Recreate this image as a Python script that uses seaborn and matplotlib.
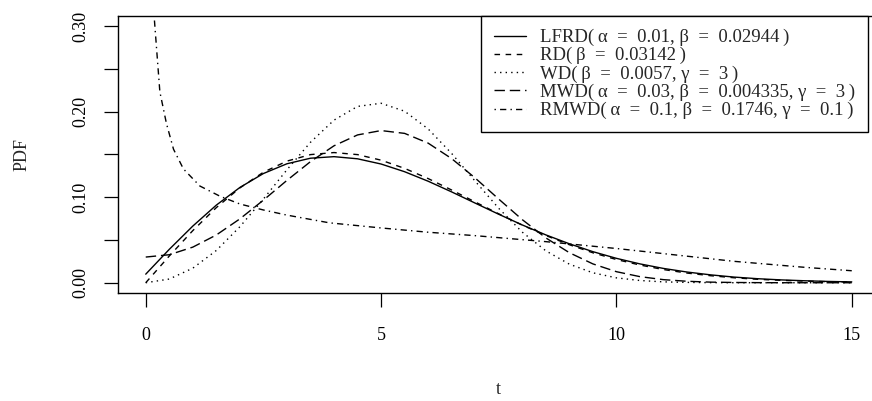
import matplotlib
matplotlib.use("Agg")
import matplotlib.pyplot as plt
import seaborn as sns

# ---------------- data ----------------
t = [0.0, 0.5, 1.0, 1.5, 2.0, 2.5, 3.0, 3.5, 4.0, 4.5, 5.0, 5.5, 6.0, 6.5, 7.0, 7.5,
     8.0, 8.5, 9.0, 9.5, 10.0, 10.5, 11.0, 11.5, 12.0, 12.5, 13.0, 13.5, 14.0, 14.5, 15.0]
lfrd = [0.0100, 0.0390, 0.0662, 0.0907, 0.1113, 0.1276, 0.1390, 0.1455, 0.1473, 0.1448,
        0.1387, 0.1297, 0.1186, 0.1061, 0.0930, 0.0800, 0.0675, 0.0559, 0.0455, 0.0363,
        0.0285, 0.0220, 0.0167, 0.0125, 0.0092, 0.0066, 0.0047, 0.0033, 0.0023, 0.0015, 0.0010]
rd = [0.0000, 0.0312, 0.0609, 0.0878, 0.1108, 0.1291, 0.1421, 0.1497, 0.1521, 0.1497,
      0.1432, 0.1336, 0.1217, 0.1083, 0.0943, 0.0805, 0.0673, 0.0552, 0.0444, 0.0350,
      0.0271, 0.0207, 0.0154, 0.0113, 0.0082, 0.0058, 0.0040, 0.0028, 0.0019, 0.0012, 0.0008]
wd = [0.0000, 0.0043, 0.0170, 0.0377, 0.0654, 0.0978, 0.1320, 0.1641, 0.1900, 0.2060,
      0.2097, 0.2004, 0.1797, 0.1510, 0.1186, 0.0869, 0.0591, 0.0373, 0.0217, 0.0116,
      0.0057, 0.0026, 0.0010, 0.0004, 0.0001, 0.0000, 0.0000, 0.0000, 0.0000, 0.0000, 0.0000]
mwd = [0.0300, 0.0327, 0.0416, 0.0558, 0.0746, 0.0965, 0.1196, 0.1415, 0.1600, 0.1727,
       0.1778, 0.1745, 0.1631, 0.1450, 0.1223, 0.0977, 0.0737, 0.0524, 0.0351, 0.0220,
       0.0129, 0.0071, 0.0036, 0.0017, 0.0007, 0.0003, 0.0001, 0.0000, 0.0000, 0.0000, 0.0000]
t_rmwd = [0.12, 0.18, 0.30, 0.44, 0.59, 0.80, 1.15, 1.58, 2.0, 2.5, 3.0, 3.9, 5.0, 6.0,
          7.0, 8.5, 10.0, 11.0, 12.5, 14.0, 15.0]
rmwd = [0.400, 0.310, 0.223, 0.186, 0.156, 0.133, 0.113, 0.101, 0.092, 0.085, 0.079,
        0.070, 0.064, 0.059, 0.055, 0.048, 0.040, 0.034, 0.025, 0.018, 0.014]

# en spaces around "=" and thin spaces inside the brackets mimic R's plotmath spacing
labels = ["LFRD(\u2009α\u2002=\u20020.01, β\u2002=\u20020.02944\u2009)",
          "RD(\u2009β\u2002=\u20020.03142\u2009)",
          "WD(\u2009β\u2002=\u20020.0057, γ\u2002=\u20023\u2009)",
          "MWD(\u2009α\u2002=\u20020.03, β\u2002=\u20020.004335, γ\u2002=\u20023\u2009)",
          "RMWD(\u2009α\u2002=\u20020.1, β\u2002=\u20020.1746, γ\u2002=\u20020.1\u2009)"]
x_ticks = [0, 5, 10, 15]
y_ticks = [0.00, 0.05, 0.10, 0.15, 0.20, 0.25, 0.30]
y_tick_labels = ["0.00", "", "0.10", "", "0.20", "", "0.30"]

# ---------------- style ----------------
sns.set_style("ticks")
plt.rcParams["font.family"] = ["Liberation Serif", "DejaVu Serif"]
plt.rcParams["lines.scale_dashes"] = False

W, H = 872, 401
fig = plt.figure(figsize=(W / 100, H / 100), dpi=100)
left, right, top, bottom = 117.5, 880.0, 15.7, 293.0
ax = fig.add_axes([left / W, (H - bottom) / H, (right - left) / W, (bottom - top) / H])

styles = [
    (lfrd, t, "-"),
    (rd, t, (0, (4.0, 4.0))),
    (wd, t, (0, (1.0, 3.0))),
    (mwd, t, (0, (7.5, 3.5))),
    (rmwd, t_rmwd, (0, (1.0, 3.0, 4.5, 3.0))),
]
for (y, x, ls), lab in zip(styles, labels):
    sns.lineplot(x=x, y=y, ax=ax, color="black", linewidth=1.0,
                 linestyle=ls, label=lab, sort=True, estimator=None)

ax.set_xlim(-0.6, 15.6)
ax.set_ylim(-0.012, 0.312)
ax.set_xticks(x_ticks)
ax.set_xticklabels([str(v) for v in x_ticks])
ax.set_yticks(y_ticks)
ax.set_yticklabels(y_tick_labels, rotation=90, va="center")
ax.tick_params(axis="both", direction="out", length=10, width=0.9,
               labelsize=13, colors="black")
ax.tick_params(axis="x", pad=14.5)
ax.tick_params(axis="y", pad=10.5)
for sp in ax.spines.values():
    sp.set_visible(True)
    sp.set_linewidth(1.0)
    sp.set_color("black")

ax.set_xlabel("t", fontsize=13, va="center")
ax.xaxis.set_label_coords(0.5, (bottom - 390) / (bottom - top))
ax.set_ylabel("PDF", fontsize=13, va="center")
ax.yaxis.set_label_coords((22 - left) / (right - left), 0.5)

leg = ax.legend(loc="upper right", bbox_to_anchor=(868 / W, (H - top) / H),
                bbox_transform=fig.transFigure, borderaxespad=0,
                fontsize=13.5, frameon=True, fancybox=False, framealpha=1,
                edgecolor="black", handlelength=1.72, handletextpad=0.72,
                borderpad=0.7, labelspacing=0.05)
leg.get_frame().set_linewidth(1.0)

fig.savefig("out.png", dpi=100)
